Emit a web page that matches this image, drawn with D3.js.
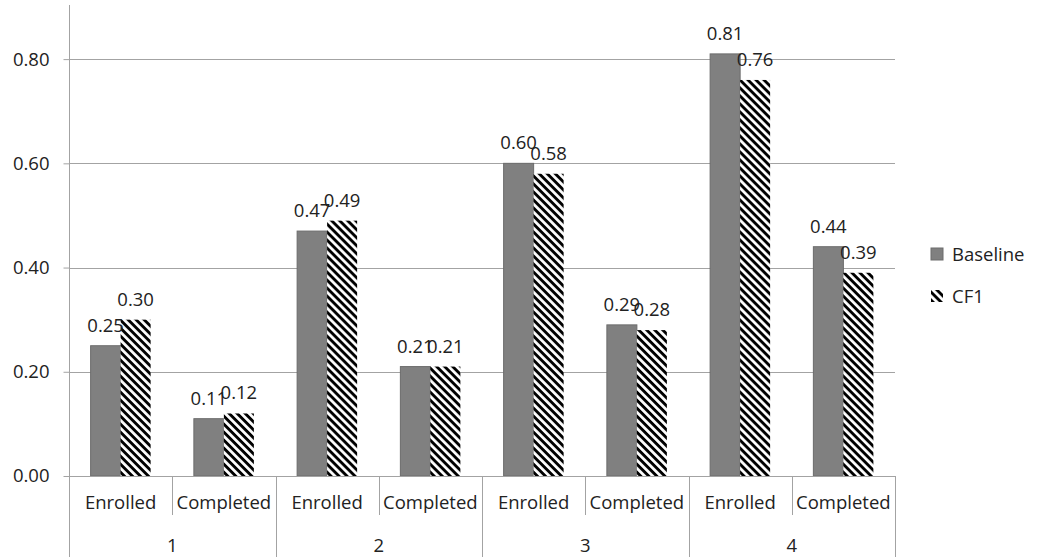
<!DOCTYPE html>
<html>
<head>
<meta charset="utf-8">
<script src="https://cdn.jsdelivr.net/npm/d3@7"></script>
<style>
  html, body { margin: 0; padding: 0; background: #fff; }
  svg { display: block; }
  text { font-family: "Open Sans", "Liberation Sans", sans-serif; fill: #222; }
</style>
</head>
<body>
<svg id="chart" width="1040" height="557"></svg>
<script>
// Grouped categories: four groups, each split into two stages
const groups = ["1", "2", "3", "4"];
const stages = ["Enrolled", "Completed"];
const seriesNames = ["Baseline", "CF1"];
const baseline = [0.25, 0.11, 0.47, 0.21, 0.60, 0.29, 0.81, 0.44];
const cf1      = [0.30, 0.12, 0.49, 0.21, 0.58, 0.28, 0.76, 0.39];
const yTicks = [0, 0.2, 0.4, 0.6, 0.8];

const svg = d3.select("#chart");
const fontSize = 18.5;

// one band per (group, stage) pair
const cells = [];
groups.forEach((g, gi) => stages.forEach((s, si) => {
  const i = gi * stages.length + si;
  cells.push({ key: g + "-" + s, group: g, stage: s, values: [baseline[i], cf1[i]] });
}));

const left = 69, right = 895, baseY = 476, topY = 7;
const x = d3.scaleBand().domain(cells.map(d => d.key)).range([left, right]).padding(0);
const xGroup = d3.scaleBand().domain(groups).range([left, right]).padding(0);
const y = d3.scaleLinear().domain([0, 0.9]).range([baseY, topY]);
const barW = 30;
const x1 = d3.scaleBand().domain(seriesNames).range([0, barW * 2]).padding(0);

// diagonal stripe pattern for CF1
const defs = svg.append("defs");
const pat = defs.append("pattern")
  .attr("id", "stripes")
  .attr("patternUnits", "userSpaceOnUse")
  .attr("width", 5.66).attr("height", 5.66)
  .attr("patternTransform", "rotate(45)");
pat.append("rect").attr("width", 5.66).attr("height", 5.66).attr("fill", "#fff");
pat.append("rect").attr("width", 5.66).attr("height", 2.9).attr("fill", "#000");

const fills = { Baseline: "#808080", CF1: "url(#stripes)" };

// horizontal gridlines
svg.append("g")
  .selectAll("line")
  .data(yTicks.filter(t => t > 0))
  .join("line")
  .attr("x1", left).attr("x2", right)
  .attr("y1", d => Math.round(y(d)) + 0.5).attr("y2", d => Math.round(y(d)) + 0.5)
  .attr("stroke", "#a3a3a3").attr("stroke-width", 1);

// value axis
const yAxis = svg.append("g")
  .attr("transform", `translate(${left + 0.5},0)`)
  .call(d3.axisLeft(y).tickValues(yTicks).tickFormat(d3.format(".2f")).tickSize(6).tickPadding(14));
yAxis.select(".domain").remove();
yAxis.selectAll(".tick line").attr("stroke", "#a3a3a3");
yAxis.selectAll(".tick text")
  .style("font-size", fontSize + "px")
  .style("font-family", "'Open Sans', sans-serif")
  .attr("fill", "#222");
svg.append("line")
  .attr("x1", left + 0.5).attr("x2", left + 0.5)
  .attr("y1", topY - 2).attr("y2", 557)
  .attr("stroke", "#a3a3a3");

// bars
const cellG = svg.append("g")
  .selectAll("g")
  .data(cells)
  .join("g")
  .attr("transform", d => `translate(${x(d.key) + (x.bandwidth() - barW * 2) / 2},0)`);

cellG.selectAll("rect")
  .data(d => d.values.map((v, i) => ({ name: seriesNames[i], value: v })))
  .join("rect")
  .attr("x", d => x1(d.name))
  .attr("y", d => y(d.value))
  .attr("width", x1.bandwidth())
  .attr("height", d => baseY - y(d.value))
  .attr("fill", d => fills[d.name])
  .attr("stroke", d => d.name === "Baseline" ? "#6c6c6c" : "none")
  .attr("stroke-width", 1);

// value labels above each bar
cellG.selectAll("text")
  .data(d => d.values.map((v, i) => ({ name: seriesNames[i], value: v })))
  .join("text")
  .attr("x", d => x1(d.name) + x1.bandwidth() / 2)
  .attr("y", d => y(d.value) - 14)
  .attr("text-anchor", "middle")
  .style("font-size", fontSize + "px")
  .text(d => d3.format(".2f")(d.value));

// category axis: baseline, stage labels, group labels and separators
const catAxis = svg.append("g");
catAxis.append("line")
  .attr("x1", left).attr("x2", right + 0.5)
  .attr("y1", baseY + 0.5).attr("y2", baseY + 0.5)
  .attr("stroke", "#a3a3a3");

catAxis.selectAll(".stage-sep")
  .data(cells.filter((d, i) => i % 2 === 1))
  .join("line")
  .attr("class", "stage-sep")
  .attr("x1", d => Math.round(x(d.key)) + 0.5).attr("x2", d => Math.round(x(d.key)) + 0.5)
  .attr("y1", baseY).attr("y2", 515)
  .attr("stroke", "#a3a3a3");

catAxis.selectAll(".group-sep")
  .data(groups.slice(1).concat(["end"]))
  .join("line")
  .attr("class", "group-sep")
  .attr("x1", d => d === "end" ? right + 0.5 : Math.round(xGroup(d)) + 0.5)
  .attr("x2", d => d === "end" ? right + 0.5 : Math.round(xGroup(d)) + 0.5)
  .attr("y1", baseY).attr("y2", 557)
  .attr("stroke", "#a3a3a3");

catAxis.selectAll(".stage-label")
  .data(cells)
  .join("text")
  .attr("class", "stage-label")
  .attr("x", d => x(d.key) + x.bandwidth() / 2)
  .attr("y", 509)
  .attr("text-anchor", "middle")
  .style("font-size", fontSize + "px")
  .text(d => d.stage);

catAxis.selectAll(".group-label")
  .data(groups)
  .join("text")
  .attr("class", "group-label")
  .attr("x", d => xGroup(d) + xGroup.bandwidth() / 2)
  .attr("y", 552)
  .attr("text-anchor", "middle")
  .style("font-size", fontSize + "px")
  .text(d => d);

// legend
const legend = svg.append("g")
  .selectAll("g")
  .data(seriesNames)
  .join("g")
  .attr("transform", (d, i) => `translate(931,${248 + i * 42})`);
legend.append("rect")
  .attr("width", 12).attr("height", 12)
  .attr("fill", d => fills[d])
  .attr("stroke", d => d === "Baseline" ? "#6c6c6c" : "none");
legend.append("text")
  .attr("x", 21).attr("y", 13)
  .style("font-size", fontSize + "px")
  .text(d => d);
</script>
</body>
</html>
